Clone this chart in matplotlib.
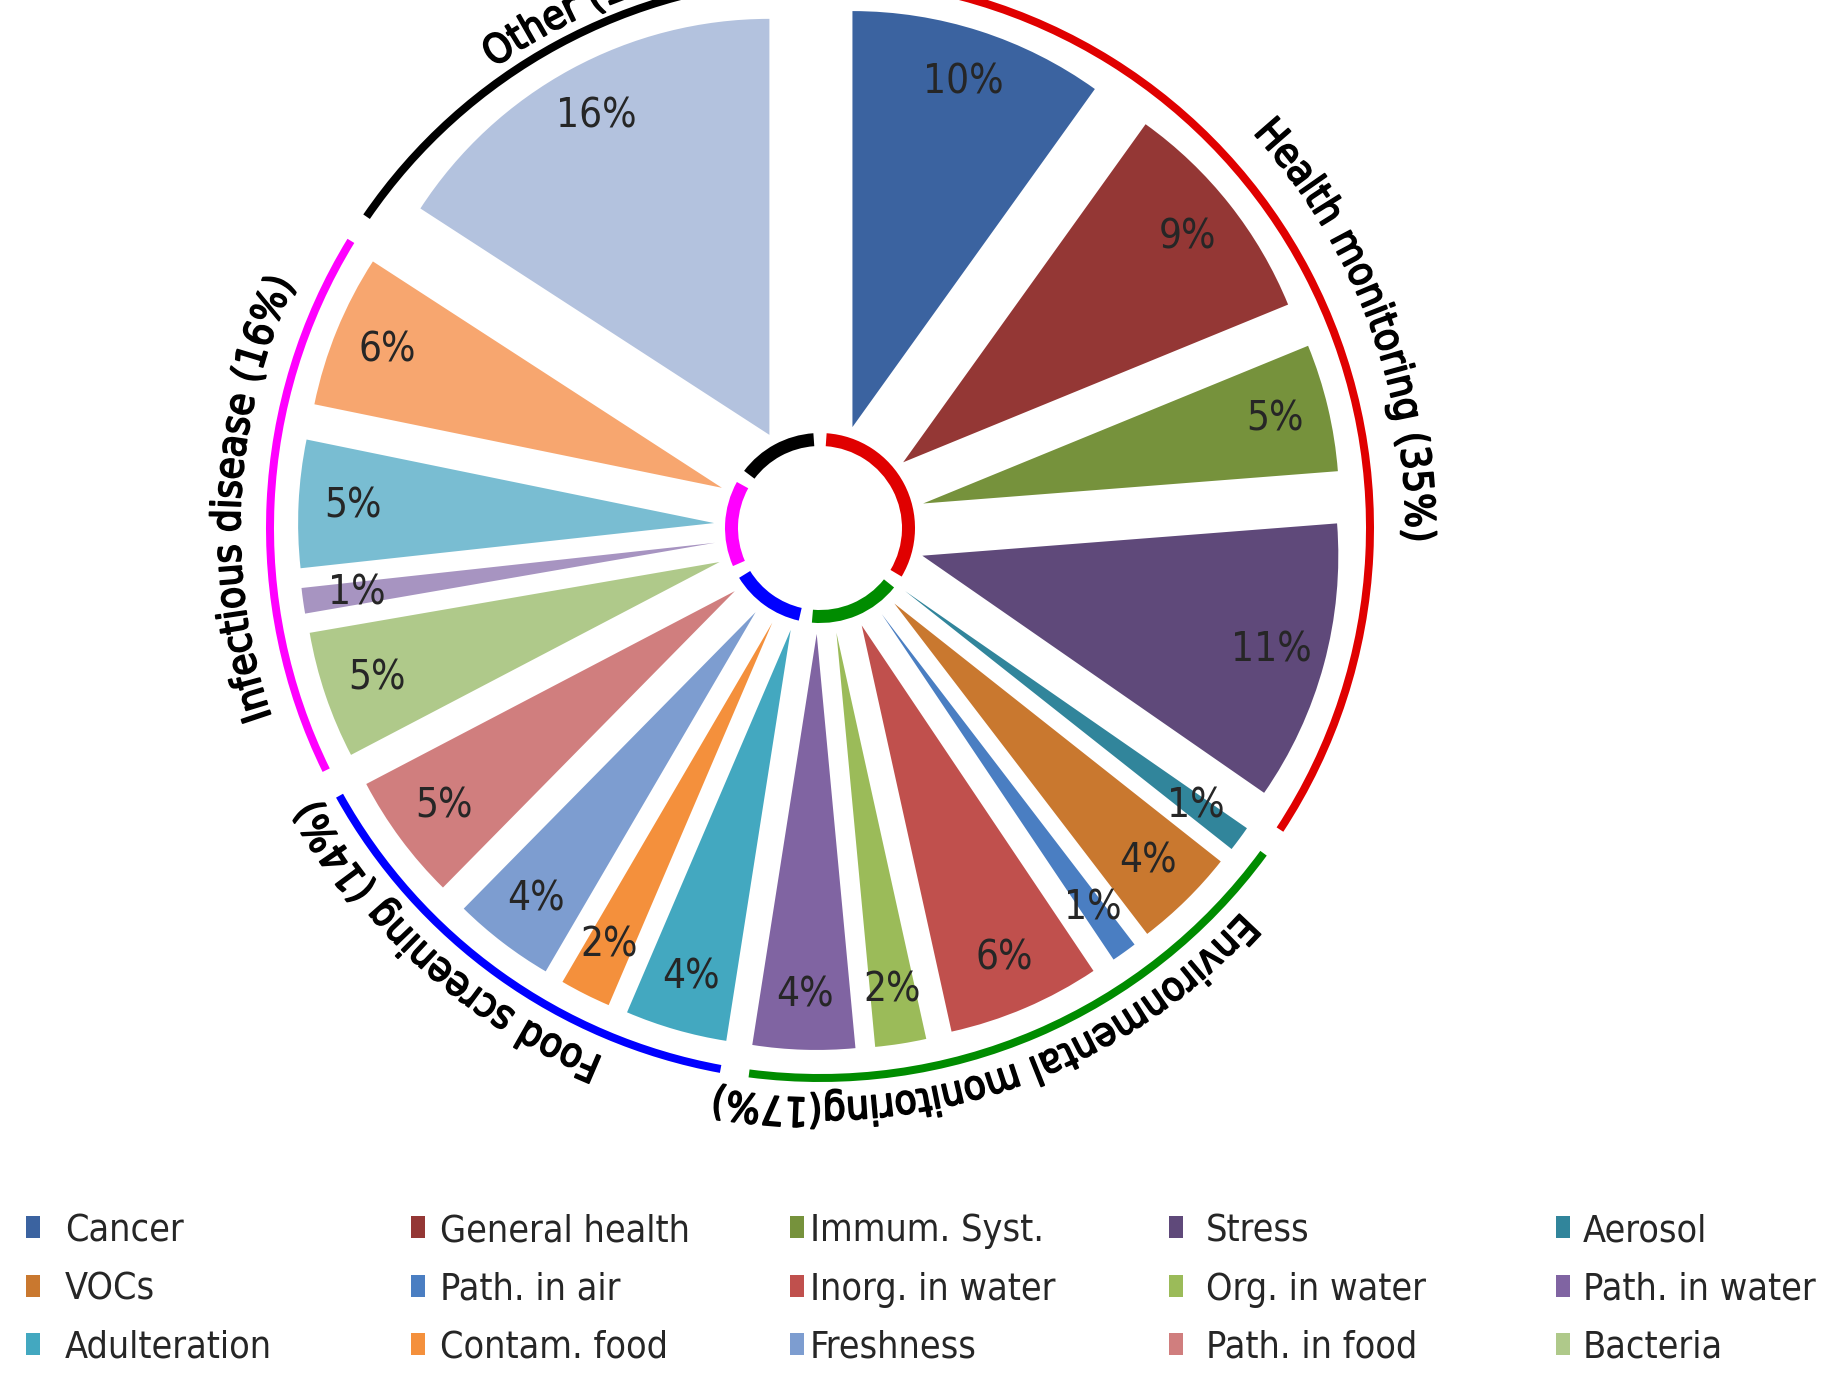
import os
import matplotlib
matplotlib.use("Agg")
import matplotlib.pyplot as plt
import matplotlib.patheffects as pe
import numpy as np
from matplotlib import font_manager
from matplotlib.font_manager import FontProperties
from matplotlib.patches import Wedge, Rectangle

# wedge data, clockwise from 12 o'clock
values = [10, 9, 5, 11, 1, 4, 1, 6, 2, 4, 4, 2, 4, 5, 5, 1, 5, 6, 16]
colors = ["#3b63a0", "#943735", "#76923c", "#5f497a", "#31859b", "#c9782f",
          "#4a7ec2", "#c0504d", "#9bbb59", "#8064a2", "#43a8c0", "#f4903c",
          "#7d9dd0", "#d07e7e", "#afc98a", "#a794c1", "#79bdd2", "#f7a66f",
          "#b3c2de"]
legend_labels = ["Cancer", "General health", "Immum. Syst.", "Stress", "Aerosol",
                 "VOCs", "Path. in air", "Inorg. in water", "Org. in water", "Path. in water",
                 "Adulteration", "Contam. food", "Freshness", "Path. in food", "Bacteria"]

groups = ["Health monitoring (35%)", "Environmental monitoring(17%)",
          "Food screening (14%)", "Infectious disease (16%)", "Other (16%)"]
group_sizes = [4, 6, 4, 4, 1]
group_colors = ["#e00000", "#008c00", "#0000ff", "#ff00ff", "#000000"]

# layout (pixels, centre of pie at cx, cy)
W, H = 1832, 1374
cx, cy = 820, 528
R = 416
offset = 106
label_mid = [69.5, 161.5, 222, 273, 336]
label_r = [586, 570, 572, 580, 564]


def font_file(names):
    files = {os.path.basename(f.fname): f.fname for f in font_manager.fontManager.ttflist}
    for n in names:
        if n in files:
            return files[n]
    return None


reg = font_file(["DejaVuSansCondensed.ttf", "LiberationSansNarrow-Regular.ttf"])


def fp(size):
    if reg:
        return FontProperties(fname=reg, size=size)
    return FontProperties(family="DejaVu Sans", stretch="condensed", size=size)


pct_font = fp(29)
leg_font = fp(27)
grp_font = fp(29)

fig = plt.figure(figsize=(W / 100, H / 100), dpi=100)
ax = fig.add_axes([0, 0, 1, 1])

total = sum(values)
wedges, texts, autotexts = ax.pie(
    values, colors=colors, radius=R, explode=[offset] * len(values),
    startangle=90, counterclock=False,
    autopct=lambda p: f"{p * total / 100:.0f}%", pctdistance=0.87,
    textprops=dict(fontproperties=pct_font, color="#262626"),
    wedgeprops=dict(linewidth=0))

ax.set_xlim(-cx, W - cx)
ax.set_ylim(cy - H, cy)
ax.set_aspect("equal")
ax.axis("off")

# group angle ranges (clockwise degrees from top)
cum = np.concatenate([[0], np.cumsum(values)]) / total * 360
idx = np.concatenate([[0], np.cumsum(group_sizes)])
renderer = fig.canvas.get_renderer()
heavy = [pe.withStroke(linewidth=1.3, foreground="black")]


def text_w(s, prop):
    w, h, d = renderer.get_text_width_height_descent(s, prop, ismath=False)
    return w


def arc_text(s, mid, r, prop):
    tot = text_w(s, prop)
    for i, ch in enumerate(s):
        if ch == " ":
            continue
        c = text_w(s[:i + 1], prop) - text_w(ch, prop) / 2 - tot / 2
        th = mid + np.degrees(c / r)
        t = np.radians(th)
        ax.text(r * np.sin(t), r * np.cos(t), ch, rotation=-th, rotation_mode="anchor",
                ha="center", va="baseline", fontproperties=prop, color="black",
                path_effects=heavy)


for g in range(len(groups)):
    a, b = cum[idx[g]], cum[idx[g + 1]]
    # inner ring
    ax.add_patch(Wedge((0, 0), 95, 90 - b + 4, 90 - a - 4, width=13,
                       color=group_colors[g], lw=0, zorder=3))
    # outer arc
    ax.add_patch(Wedge((0, 0), 554, 90 - b + 1.5, 90 - a - 1.5, width=8,
                       color=group_colors[g], lw=0, zorder=3))
    arc_text(groups[g], label_mid[g], label_r[g], grp_font)

# legend, 5 columns
mark_x = [26, 411, 790, 1169, 1556]
text_x = [65, 440, 810, 1206, 1583]
row_y = [1227, 1286, 1344]
for i, lab in enumerate(legend_labels):
    col, row = i % 5, i // 5
    ax.add_patch(Rectangle((mark_x[col] - cx, cy - row_y[row] - 11), 14, 22,
                           color=colors[i], lw=0))
    ax.text(text_x[col] - cx, cy - row_y[row] - 14, lab, ha="left", va="baseline",
            fontproperties=leg_font, color="#262626")

fig.savefig("out.png", dpi=100)
